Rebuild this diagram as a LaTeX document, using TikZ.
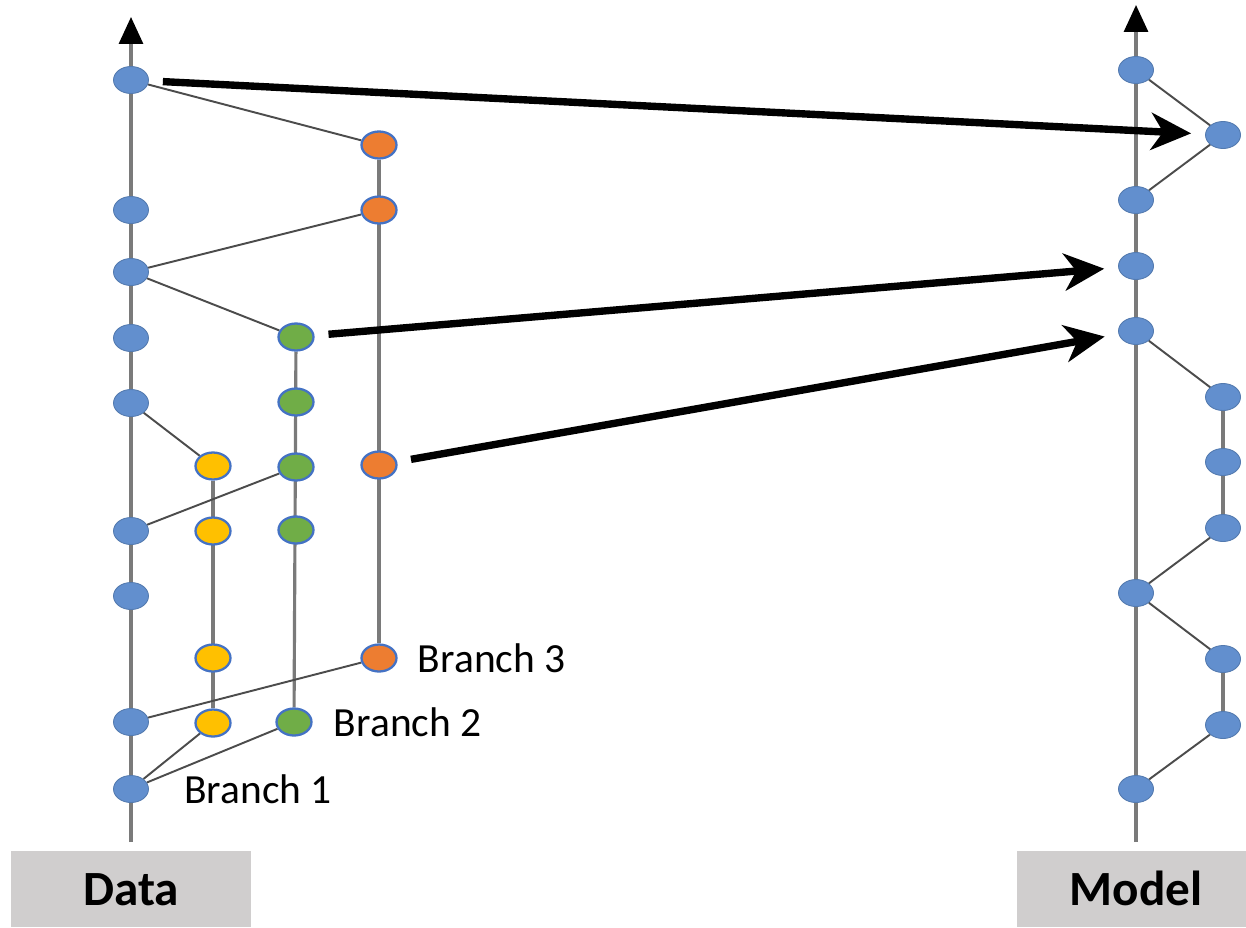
\documentclass[tikz,border=0pt]{standalone}
\usepackage{fontspec}
\setmainfont{Carlito}
\usepackage{tikz}
\usetikzlibrary{positioning,shapes.geometric,arrows.meta,backgrounds}
\definecolor{nodeblue}{RGB}{98,143,206}
\definecolor{rimblue}{RGB}{68,114,196}
\definecolor{brorange}{RGB}{237,125,49}
\definecolor{bryellow}{RGB}{255,192,0}
\definecolor{brgreen}{RGB}{112,173,71}
\definecolor{trunkgray}{RGB}{122,122,122}
\definecolor{boxgray}{RGB}{208,206,206}
\tikzset{
  commit/.style={ellipse,draw=nodeblue!85!black,line width=0.5pt,fill=nodeblue,
    minimum width=0.7cm,minimum height=0.54cm,inner sep=0pt},
  brcommit/.style={commit,draw=rimblue,line width=1.3pt,fill=#1},
  trunk/.style={trunkgray,line width=1.8pt,-{Triangle[length=0.54cm,width=0.48cm,color=black]}},
  branch/.style={trunkgray,line width=1.8pt},
  merge/.style={black!70,line width=1.1pt},
  mapto/.style={line width=4.2pt,-{Stealth[length=0.8cm,width=0.74cm,inset=0.24cm]},
    shorten <=0.28cm,shorten >=0.28cm},
  brname/.style={inner sep=0pt,font=\fontsize{23.6}{28}\selectfont},
  side/.style={fill=boxgray,minimum width=#1,minimum height=1.52cm,text height=0.64cm,
    text depth=0pt,inner sep=0pt,font=\bfseries\fontsize{28}{32}\selectfont}
}

\begin{document}
\begin{tikzpicture}[x=0.02cm,y=-0.02cm]
  \useasboundingbox (0,0) rectangle (1246,927);
  % data history
  \coordinate (DataTip) at (131,17);
  \coordinate (DataFoot) at (131,842);
  \node[commit] (D1) at (131,80) {};
  \node[commit] (D2) at (131,210) {};
  \node[commit] (D3) at (131,272) {};
  \node[commit] (D4) at (131,338) {};
  \node[commit] (D5) at (131,403) {};
  \node[commit] (D6) at (131,531) {};
  \node[commit] (D7) at (131,596) {};
  \node[commit] (D8) at (131,722) {};
  \node[commit] (D9) at (131,789) {};
  \node[brcommit=bryellow] (Y1) at (213,466) {};
  \node[brcommit=bryellow] (Y2) at (213,531) {};
  \node[brcommit=bryellow] (Y3) at (213,658) {};
  \node[brcommit=bryellow] (Y4) at (213,723) {};
  \node[brcommit=brgreen] (G1) at (296,337) {};
  \node[brcommit=brgreen] (G2) at (296,402) {};
  \node[brcommit=brgreen] (G3) at (296,467) {};
  \node[brcommit=brgreen] (G4) at (296,530) {};
  \node[brcommit=brgreen] (G5) at (294,722) {};
  \node[brcommit=brorange] (O1) at (379,145) {};
  \node[brcommit=brorange] (O2) at (379,210) {};
  \node[brcommit=brorange] (O3) at (379,465) {};
  \node[brcommit=brorange] (O4) at (379,658) {};
  \node[brname, right=0.7cm of D9] {Branch 1};
  \node[brname, right=0.42cm of G5] {Branch 2};
  \node[brname, right=0.4cm of O4] {Branch 3};
  \node[side=4.8cm] (Data) at (131,889) {Data};
  % model history
  \coordinate (ModelTip) at (1136,5);
  \coordinate (ModelFoot) at (1136,842);
  \node[commit] (M1) at (1136,70) {};
  \node[commit] (M2) at (1136,200) {};
  \node[commit] (M3) at (1136,266) {};
  \node[commit] (M4) at (1136,331) {};
  \node[commit] (M5) at (1136,593) {};
  \node[commit] (M6) at (1136,789) {};
  \node[commit] (S1) at (1223,135) {};
  \node[commit] (S2) at (1223,397) {};
  \node[commit] (S3) at (1223,462) {};
  \node[commit] (S4) at (1223,528) {};
  \node[commit] (S5) at (1223,659) {};
  \node[commit] (S6) at (1223,725) {};
  \node[side=4.76cm] (Model) at (1136,889) {Model};
  \begin{scope}[on background layer]
    \draw[trunk] (DataFoot) -- (DataTip);
    \draw[trunk] (ModelFoot) -- (ModelTip);
    \draw[branch] (Y1) -- (Y4);
    \draw[branch] (G1) -- (G5);
    \draw[branch] (O1) -- (O4);
    \draw[merge] (D1) -- (O1);
    \draw[merge] (D3) -- (O2);
    \draw[merge] (D3) -- (G1);
    \draw[merge] (D5) -- (Y1);
    \draw[merge] (D6) -- (G3);
    \draw[merge] (D8) -- (O4);
    \draw[merge] (D9) -- (Y4);
    \draw[merge] (D9) -- (G5);
    \draw[merge] (M1) -- (S1) -- (M2);
    \draw[merge] (M4) -- (S2);
    \draw[branch] (S2) -- (S4);
    \draw[merge] (S4) -- (M5) -- (S5);
    \draw[branch] (S5) -- (S6);
    \draw[merge] (S6) -- (M6);
  \end{scope}
  % which commits end up in the model
  \draw[mapto] (D1) -- (S1);
  \draw[mapto] (G1) -- (M3);
  \draw[mapto] (O3) -- (M4);
\end{tikzpicture}
\end{document}
